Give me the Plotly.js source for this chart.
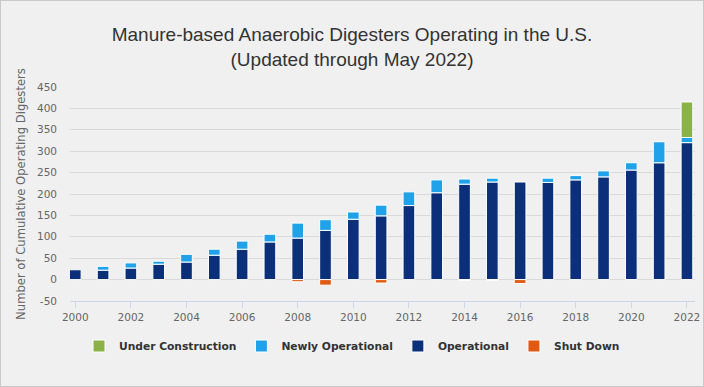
<!DOCTYPE html>
<html>
<head>
<meta charset="utf-8">
<script src="https://cdn.plot.ly/plotly-3.0.1.min.js"></script>
<style>
html,body{margin:0;padding:0;background:#f0f0f0;}
#wrap{position:relative;width:704px;height:387px;}
#chart{position:absolute;left:0;top:0;width:704px;height:387px;}
#frame{position:absolute;left:0;top:0;width:704px;height:387px;box-sizing:border-box;border:1px solid #c8c8c8;pointer-events:none;}
</style>
</head>
<body>
<div id="wrap"><div id="chart"></div><div id="frame"></div></div>
<script>
const years = [2000,2001,2002,2003,2004,2005,2006,2007,2008,2009,2010,2011,2012,2013,2014,2015,2016,2017,2018,2019,2020,2021,2022];
const operational = [23,22,27,36,41,57,71,88,97,115,141,149,173,203,223,228,228,227,233,240,256,273,320];
const newlyOperational = [null,9,12,7,18,14,19,18,35,25,17,25,32,30,12,9,null,10,10,14,17,49,12];
const underConstruction = [null,null,null,null,null,null,null,null,null,null,null,null,null,null,null,null,null,null,null,null,null,null,83];
const shutDown = [null,null,null,null,null,null,null,null,-5,-13,null,-8,null,null,-2,-2,-9,null,null,null,null,null,null];
const yTicks = [-50,0,50,100,150,200,250,300,350,400,450];

const line = {color:'#ffffff', width:1};
const traces = [
  {type:'bar', name:'Operational', x:years, y:operational, marker:{color:'#0b2f78', line:line}, legendrank:3},
  {type:'bar', name:'Newly Operational', x:years, y:newlyOperational, marker:{color:'#1fa2ea', line:line}, legendrank:2},
  {type:'bar', name:'Under Construction', x:years, y:underConstruction, marker:{color:'#8bb246', line:line}, legendrank:1},
  {type:'bar', name:'Shut Down', x:years, y:shutDown, marker:{color:'#e05a12', line:line}, legendrank:4}
];

const layout = {
  width:704, height:387,
  paper_bgcolor:'#f0f0f0', plot_bgcolor:'#f0f0f0',
  barmode:'relative', bargap:0.58,
  margin:{l:70, r:9, t:87, b:86},
  title:{text:'Manure-based Anaerobic Digesters Operating in the U.S.<br>(Updated through May 2022)',
    font:{family:'Liberation Sans, Arial, sans-serif', size:19, color:'#333333'},
    x:0.5, xref:'container', xanchor:'center', y:1-41/387, yref:'container', yanchor:'middle'},
  xaxis:{range:[1999.81,2022.29], tickmode:'linear', tick0:2000, dtick:2,
    showgrid:false, zeroline:false, showline:true, linecolor:'#ccd6eb', linewidth:1,
    ticks:'outside', ticklen:6, tickcolor:'#ccd6eb', tickwidth:1,
    tickfont:{family:'DejaVu Sans, sans-serif', size:10.5, color:'#666666'}},
  yaxis:{range:[-50,450], tickvals:yTicks, ticktext:yTicks.map(String),
    showgrid:true, gridcolor:'#d9d9d9', gridwidth:1, zeroline:false, showline:false,
    ticklabelstandoff:12,
    tickfont:{family:'DejaVu Sans, sans-serif', size:10.5, color:'#666666'},
    title:{text:'Number of Cumulative Operating Digesters', standoff:8,
      font:{family:'DejaVu Sans, sans-serif', size:11.6, color:'#666666'}}},
  legend:{orientation:'h', xref:'container', yref:'container', x:0.5, xanchor:'center',
    y:1-346/387, yanchor:'middle', itemwidth:30, bgcolor:'rgba(0,0,0,0)',
    font:{family:'DejaVu Sans, sans-serif', size:10.7, color:'#333333', weight:'bold'}},
  showlegend:true
};

Plotly.newPlot('chart', traces, layout, {displayModeBar:false, staticPlot:true});
</script>
</body>
</html>
